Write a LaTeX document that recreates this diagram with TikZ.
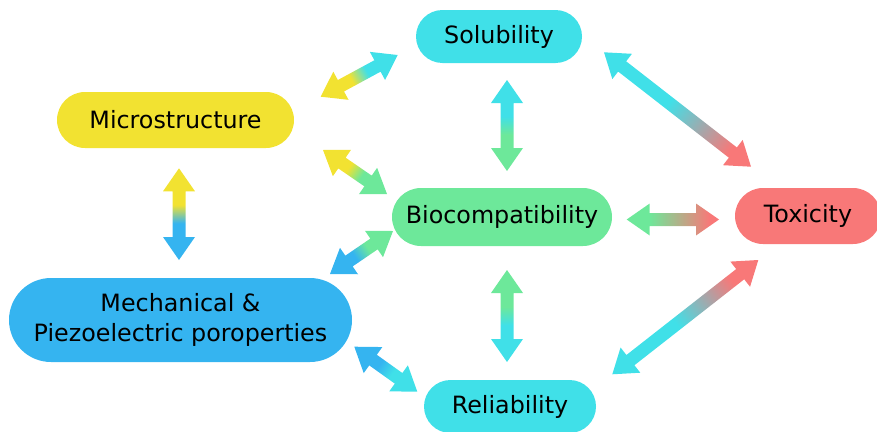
\documentclass[tikz,border=0pt]{standalone}
\usepackage{fontspec}
\setmainfont{DejaVu Sans}
\usetikzlibrary{calc}
\definecolor{cyanc}{RGB}{64,224,232}
\definecolor{yellowc}{RGB}{242,226,49}
\definecolor{greenc}{RGB}{109,232,154}
\definecolor{redc}{RGB}{248,120,120}
\definecolor{bluec}{RGB}{53,180,240}
\colorlet{gA}{red}\colorlet{gB}{blue}
\pgfdeclarehorizontalshading[gA,gB]{gsharp}{100bp}{color(0bp)=(gA); color(45bp)=(gA); color(55bp)=(gB); color(100bp)=(gB)}
\pgfdeclarehorizontalshading[gA,gB]{gsevenb}{100bp}{color(0bp)=(gA); color(47bp)=(gA); color(68bp)=(gB); color(100bp)=(gB)}
\pgfdeclarehorizontalshading[gA,gB]{geight}{100bp}{color(0bp)=(gA); color(37bp)=(gA); color(70bp)=(gB); color(100bp)=(gB)}
\pgfdeclarehorizontalshading[gA,gB]{gnine}{100bp}{color(0bp)=(gA); color(34bp)=(gA); color(53bp)=(gB); color(100bp)=(gB)}
\newcommand\garrow[5]{%
  \path let \p1=(#1), \p2=(#2), \n1={atan2(\y2-\y1,\x2-\x1)}, \n2={veclen(\x2-\x1,\y2-\y1)} in
    \pgfextra{\xdef\gax{\x1}\xdef\gay{\y1}\xdef\gang{\n1}\xdef\glen{\n2}};
  \colorlet{gA}{#3}\colorlet{gB}{#4}%
  \begin{scope}[transform canvas={shift={(\gax,\gay)},rotate=\gang}]
    \shade[shading=#5] (0pt,0pt) -- (23pt,16pt) -- (23pt,6.5pt) -- (\glen-23pt,6.5pt)
      -- (\glen-23pt,16pt) -- (\glen,0pt) -- (\glen-23pt,-16pt) -- (\glen-23pt,-6.5pt)
      -- (23pt,-6.5pt) -- (23pt,-16pt) -- cycle;
  \end{scope}}
\tikzset{
  box/.style={rectangle, inner sep=0pt, align=center, text=black,
    font=\fontsize{23.8}{30}\selectfont},
}
\begin{document}
\begin{tikzpicture}[x=1pt,y=-1pt]
\useasboundingbox (0,0) rectangle (877,431);
\node[box, fill=cyanc, minimum width=166pt, minimum height=53pt, rounded corners=26.5pt] (sol) at (499,36.5) {Solubility};
\node[box, fill=yellowc, minimum width=237pt, minimum height=56pt, rounded corners=28pt] (mic) at (175.5,120) {Microstructure};
\node[box, fill=greenc, minimum width=220pt, minimum height=58pt, rounded corners=29pt] (bio) at (502,217) {Biocompatibility};
\node[box, fill=redc, minimum width=146pt, minimum height=56pt, rounded corners=28pt] (tox) at (808,216) {Toxicity};
\node[box, fill=bluec, minimum width=343pt, minimum height=84pt, rounded corners=42pt] (mec) at (180.5,320) {Mechanical \&\\Piezoelectric poroperties};
\node[box, fill=cyanc, minimum width=172pt, minimum height=53pt, rounded corners=26.5pt] (rel) at (510,406.5) {Reliability};
% arrow end points
\coordinate (a1) at (320.7,96.7);  \coordinate (b1) at (397.7,55);
\coordinate (a2) at (323,150);     \coordinate (b2) at (387,194);
\coordinate (a3) at (330,274);     \coordinate (b3) at (393,231);
\coordinate (a4) at (179,168.3);   \coordinate (b4) at (179,260);
\coordinate (a5) at (507,80);      \coordinate (b5) at (507,171);
\coordinate (a6) at (507,270);     \coordinate (b6) at (507,362);
\coordinate (a7) at (604,52.3);    \coordinate (b7) at (751,166.7);
\coordinate (a8) at (626.7,219.5); \coordinate (b8) at (719,219.5);
\coordinate (a9) at (758.3,260);   \coordinate (b9) at (612.3,374.3);
\coordinate (a10) at (354.3,346.7); \coordinate (b10) at (417.3,391.7);
\garrow{a1}{b1}{yellowc}{cyanc}{gsharp}
\garrow{a2}{b2}{yellowc}{greenc}{gsharp}
\garrow{a3}{b3}{bluec}{greenc}{gsharp}
\garrow{a4}{b4}{yellowc}{bluec}{gsharp}
\garrow{a5}{b5}{cyanc}{greenc}{gsharp}
\garrow{a6}{b6}{greenc}{cyanc}{gsharp}
\garrow{a7}{b7}{cyanc}{redc}{gsevenb}
\garrow{a8}{b8}{greenc}{redc}{geight}
\garrow{a9}{b9}{redc}{cyanc}{gnine}
\garrow{a10}{b10}{bluec}{cyanc}{gsharp}
\end{tikzpicture}
\end{document}
